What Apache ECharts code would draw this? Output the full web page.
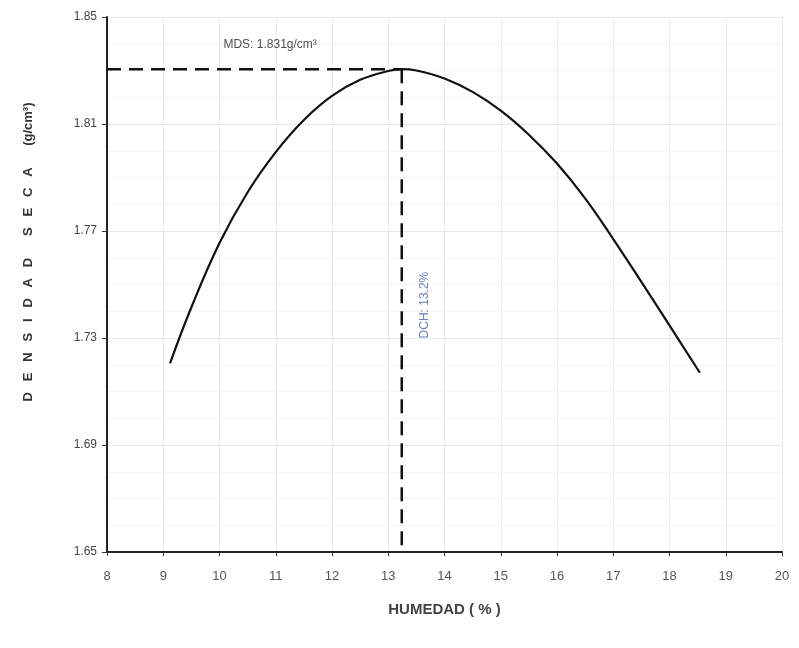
<!DOCTYPE html>
<html>
<head>
<meta charset="utf-8">
<script src="https://cdn.jsdelivr.net/npm/echarts@6/dist/echarts.min.js"></script>
<style>html,body{margin:0;padding:0;background:#fff}#c{width:799px;height:648px}</style>
</head>
<body>
<div id="c"></div>
<script>
// Data
const humedad = [9.12, 9.5, 10.0, 10.5, 11.0, 11.5, 12.0, 12.5, 13.0, 13.24, 13.5, 14.0, 14.5, 15.0, 15.5, 16.0, 16.5, 17.0, 17.5, 18.0, 18.54];
const densidad = [1.7205, 1.7415, 1.7655, 1.7845, 1.7995, 1.8115, 1.8205, 1.8265, 1.8298, 1.8305, 1.8300, 1.8270, 1.8220, 1.8150, 1.8060, 1.7952, 1.7822, 1.7670, 1.7510, 1.7347, 1.7170];
const peakX = 13.24;
const peakY = 1.8305;
const xTicks = [8, 9, 10, 11, 12, 13, 14, 15, 16, 17, 18, 19, 20];
const yTicks = [1.65, 1.69, 1.73, 1.77, 1.81, 1.85];
const mdsLabel = 'MDS: 1.831g/cm³';
const dchLabel = 'DCH: 13.2%';
const yTitle = 'D   E   N   S   I   D   A   D      S   E   C   A      (g/cm³)';
const xTitle = 'HUMEDAD ( % )';

const chart = echarts.init(document.getElementById('c'));
const curve = humedad.map((x, i) => [x, densidad[i]]);
const font = '"Liberation Sans", Arial, sans-serif';

chart.setOption({
  animation: false,
  backgroundColor: '#fff',
  grid: { left: 107, right: 17, top: 17, bottom: 96 },
  graphic: [{
    type: 'text', x: 28, y: 252, rotation: Math.PI / 2,
    style: { text: yTitle, fontFamily: font, fontSize: 13, fontWeight: 'bold',
      fill: '#333', align: 'center', verticalAlign: 'middle' }
  }],
  xAxis: {
    type: 'value', min: xTicks[0], max: xTicks[xTicks.length - 1], interval: 1,
    name: xTitle, nameLocation: 'middle', nameGap: 50,
    nameTextStyle: { fontFamily: font, fontSize: 15, fontWeight: 'bold', color: '#444' },
    axisLine: { lineStyle: { color: '#222', width: 2 } },
    axisTick: { show: true, length: 4, lineStyle: { color: '#333' } },
    axisLabel: { fontFamily: font, fontSize: 13, color: '#555', margin: 18 },
    splitLine: { show: true, lineStyle: { color: '#ececec', width: 1 } }
  },
  yAxis: {
    type: 'value', min: yTicks[0], max: yTicks[yTicks.length - 1], interval: 0.04,
    axisLine: { show: true, lineStyle: { color: '#222', width: 2 } },
    axisTick: { show: true, length: 5, lineStyle: { color: '#333' } },
    axisLabel: { fontFamily: font, fontSize: 12, color: '#444', margin: 10,
      formatter: v => v.toFixed(2) },
    splitLine: { show: true, lineStyle: { color: '#e8e8e8', width: 1 } },
    minorTick: { show: false, splitNumber: 4 },
    minorSplitLine: { show: true, lineStyle: { color: '#f4f4f4', width: 1 } }
  },
  series: [
    {
      type: 'line', data: curve, smooth: 0.4, showSymbol: false,
      lineStyle: { color: '#111', width: 2.2 }, z: 3
    },
    {
      type: 'line', data: [[xTicks[0], peakY], [peakX, peakY]], showSymbol: false,
      lineStyle: { color: '#111', width: 2.5, type: [14, 8] }, z: 4
    },
    {
      type: 'line', data: [[peakX, peakY], [peakX, yTicks[0]]], showSymbol: false,
      lineStyle: { color: '#111', width: 2.5, type: [14, 8] }, z: 4
    },
    {
      type: 'scatter', data: [[10.9, 1.8395]], symbolSize: 0,
      label: { show: true, formatter: mdsLabel, position: 'inside',
        fontFamily: font, fontSize: 12, color: '#222' }
    },
    {
      type: 'scatter', data: [[13.65, 1.7423]], symbolSize: 0,
      label: { show: true, formatter: dchLabel, position: 'inside', rotate: 90,
        fontFamily: font, fontSize: 12, color: '#4a5bb0' }
    }
  ]
});
</script>
</body>
</html>
